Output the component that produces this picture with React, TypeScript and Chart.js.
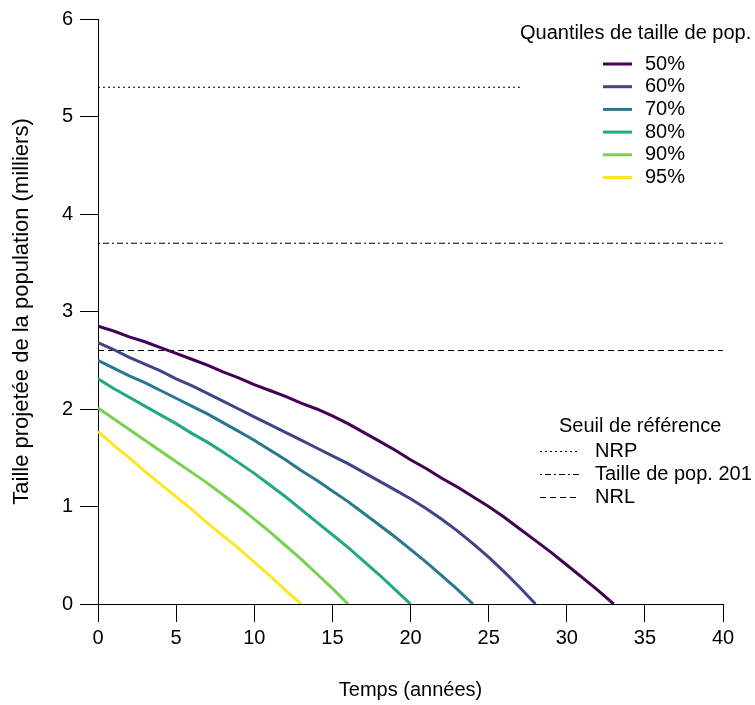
import React, { useEffect, useRef } from "react";
import { Chart, registerables } from "chart.js";

Chart.register(...registerables);

// Projected population size (thousands) by year, per quantile
const q50 = [2.85, 2.8, 2.74, 2.69, 2.63, 2.57, 2.51, 2.45, 2.38, 2.32, 2.25, 2.19, 2.13, 2.06, 2.0, 1.93, 1.85, 1.76, 1.67, 1.58, 1.48, 1.39, 1.29, 1.2, 1.1, 1.0, 0.89, 0.77, 0.65, 0.53, 0.4, 0.27, 0.14, 0];
const q60 = [2.68, 2.61, 2.53, 2.46, 2.39, 2.31, 2.24, 2.16, 2.08, 2.0, 1.92, 1.84, 1.76, 1.68, 1.6, 1.52, 1.44, 1.35, 1.26, 1.17, 1.08, 0.98, 0.87, 0.75, 0.62, 0.48, 0.33, 0.17, 0];
const q70 = [2.5, 2.42, 2.34, 2.27, 2.19, 2.11, 2.03, 1.95, 1.86, 1.77, 1.68, 1.58, 1.48, 1.37, 1.27, 1.16, 1.05, 0.93, 0.81, 0.69, 0.56, 0.43, 0.29, 0.15, 0];
const q80 = [2.31, 2.21, 2.12, 2.03, 1.94, 1.85, 1.75, 1.66, 1.56, 1.45, 1.34, 1.22, 1.1, 0.97, 0.84, 0.71, 0.58, 0.44, 0.3, 0.15, 0];
const q90 = [2.01, 1.9, 1.79, 1.68, 1.57, 1.46, 1.35, 1.24, 1.12, 1.0, 0.87, 0.74, 0.6, 0.46, 0.31, 0.16, 0];
const q95 = [1.77, 1.63, 1.5, 1.36, 1.23, 1.1, 0.97, 0.83, 0.7, 0.57, 0.43, 0.29, 0.14, 0];

const quantileSeries = [q50, q60, q70, q80, q90, q95];
const quantileLabels = ["50%", "60%", "70%", "80%", "90%", "95%"];
const quantileColors = ["#440154", "#414487", "#2A788E", "#22A884", "#7AD151", "#FDE725"];

// Reference thresholds
const refLabels = ["NRP", "Taille de pop. 201", "NRL"];
const refValues = [5.3, 3.7, 2.6];
const refDashes = [[2, 3], [2, 3, 6, 3], [6, 4]];

const xRange = [0, 40];
const yRange = [0, 6];
const xStep = 5;
const yStep = 1;

const quantileTitle = "Quantiles de taille de pop.";
const refTitle = "Seuil de référence";
const xTitle = "Temps (années)";
const yTitle = "Taille projetée de la population (milliers)";

const FONT = "'Liberation Sans', Arial, sans-serif";
const FS = 20;

const legendPlugin = {
  id: "customLegends",
  afterDatasetsDraw(chart: any) {
    const ctx = chart.ctx as CanvasRenderingContext2D;
    ctx.save();
    // white background of the quantile legend box
    ctx.fillStyle = "#ffffff";
    ctx.fillRect(523, 18, 232, 172);
    ctx.font = `${FS}px ${FONT}`;
    ctx.fillStyle = "#000";
    ctx.textBaseline = "middle";
    ctx.textAlign = "left";
    ctx.fillText(quantileTitle, 520, 33);
    quantileLabels.forEach((lab, i) => {
      const y = 64 + i * 22.7;
      ctx.strokeStyle = quantileColors[i];
      ctx.lineWidth = 3;
      ctx.setLineDash([]);
      ctx.beginPath();
      ctx.moveTo(603, y);
      ctx.lineTo(632, y);
      ctx.stroke();
      ctx.fillStyle = "#000";
      ctx.fillText(lab, 645, y);
    });
    ctx.fillText(refTitle, 559, 426);
    refLabels.forEach((lab, i) => {
      const y = 451 + i * 23;
      ctx.strokeStyle = "#000";
      ctx.lineWidth = 1;
      ctx.setLineDash(refDashes[i]);
      ctx.beginPath();
      ctx.moveTo(540, y + 0.5);
      ctx.lineTo(580, y + 0.5);
      ctx.stroke();
      ctx.setLineDash([]);
      ctx.fillText(lab, 595, y);
    });
    ctx.restore();
  },
};

export default function App() {
  const ref = useRef<HTMLCanvasElement>(null);
  useEffect(() => {
    if (!ref.current) return;
    const datasets: any[] = [];
    quantileSeries.forEach((s, i) => {
      datasets.push({
        label: quantileLabels[i],
        data: s.map((v, t) => ({ x: t, y: v })),
        borderColor: quantileColors[i],
        backgroundColor: quantileColors[i],
        borderWidth: 3,
        pointRadius: 0,
        fill: false,
        tension: 0,
        order: 1,
      });
    });
    refValues.forEach((v, i) => {
      datasets.push({
        label: refLabels[i],
        data: [
          { x: xRange[0], y: v },
          { x: xRange[1], y: v },
        ],
        borderColor: "#000",
        borderWidth: 1,
        borderDash: refDashes[i],
        pointRadius: 0,
        fill: false,
        order: 2,
      });
    });
    const font = { family: FONT, size: FS };
    const chart = new Chart(ref.current, {
      type: "line",
      data: { datasets },
      plugins: [legendPlugin],
      options: {
        animation: false,
        responsive: false,
        maintainAspectRatio: false,
        layout: { padding: { top: 17, right: 32, left: 0, bottom: 0 } },
        plugins: { legend: { display: false }, tooltip: { enabled: false } },
        scales: {
          x: {
            type: "linear",
            min: xRange[0],
            max: xRange[1],
            ticks: { stepSize: xStep, color: "#000", font, padding: 4, maxRotation: 0 },
            grid: { drawOnChartArea: false, drawTicks: true, tickLength: 18, color: "#000", lineWidth: 1 },
            border: { display: true, color: "#000", width: 1 },
            title: { display: true, text: xTitle, color: "#000", font, padding: { top: 0, bottom: 3 } },
            afterFit(s: any) {
              s.height = 101;
            },
          },
          y: {
            type: "linear",
            min: yRange[0],
            max: yRange[1],
            ticks: { stepSize: yStep, color: "#000", font, padding: 7 },
            grid: { drawOnChartArea: false, drawTicks: true, tickLength: 18, color: "#000", lineWidth: 1 },
            border: { display: true, color: "#000", width: 1 },
            title: { display: true, text: yTitle, color: "#000", font: { family: FONT, size: 22 }, padding: { top: 9, bottom: 0 } },
            afterFit(s: any) {
              s.width = 98;
            },
          },
        },
      },
    } as any);
    return () => chart.destroy();
  }, []);
  return (
    <canvas
      ref={ref}
      width={755}
      height={705}
      style={{ position: "absolute", left: 0, top: 0, width: 755, height: 705 }}
    />
  );
}
